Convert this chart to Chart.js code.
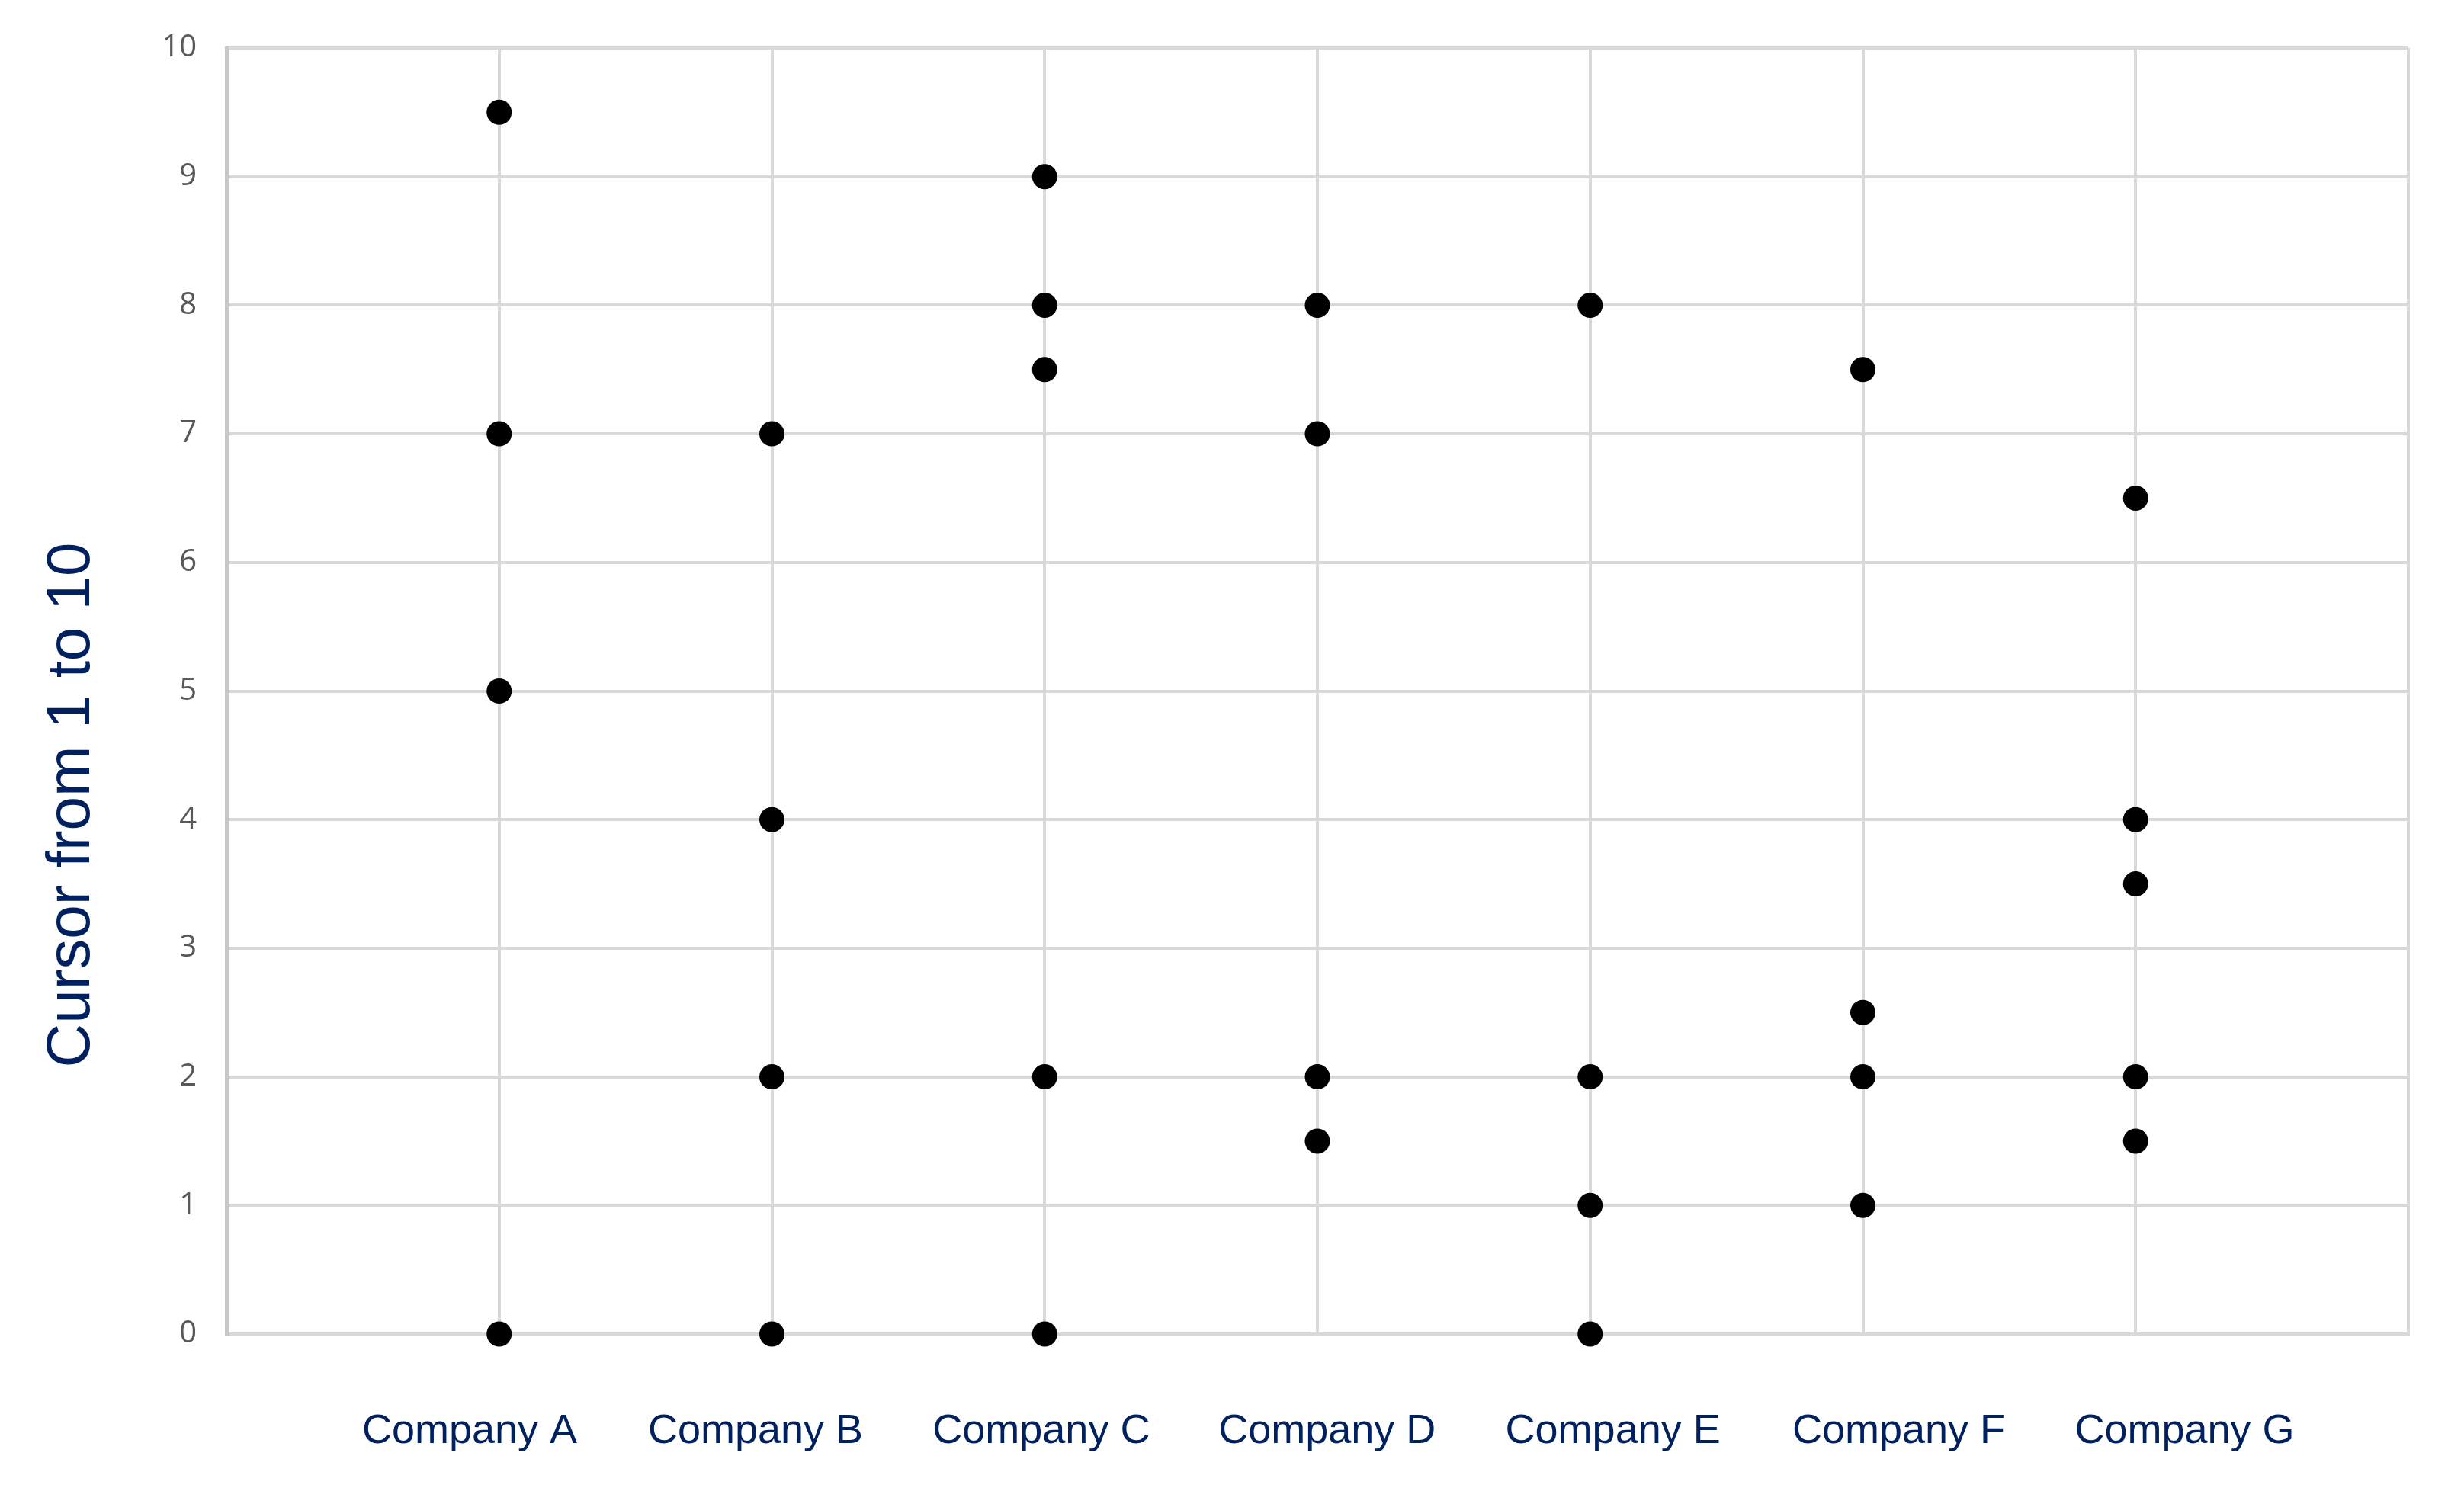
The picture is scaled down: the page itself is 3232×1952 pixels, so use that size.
<!DOCTYPE html>
<html>
<head>
<meta charset="utf-8">
<title>Cursor from 1 to 10</title>
<script src="https://cdn.jsdelivr.net/npm/chart.js@4.4.1/dist/chart.umd.min.js"></script>
<style>
  html, body { margin: 0; padding: 0; background: #fff; }
  #wrap { width: 3232px; height: 1952px; }
</style>
</head>
<body>
<div id="wrap"><canvas id="cursor-chart"></canvas></div>
<script>
var companies = ['Company A', 'Company B', 'Company C', 'Company D', 'Company E', 'Company F', 'Company G'];

var companyA = [9.5, 7, 5, 0];
var companyB = [7, 4, 2, 0];
var companyC = [9, 8, 7.5, 2, 0];
var companyD = [8, 7, 2, 1.5];
var companyE = [8, 2, 1, 0];
var companyF = [7.5, 2.5, 2, 1];
var companyG = [6.5, 4, 3.5, 2, 1.5];

var yTicks = [0, 1, 2, 3, 4, 5, 6, 7, 8, 9, 10];
var yTitle = 'Cursor from 1 to 10';

window.addEventListener('DOMContentLoaded', init);

function init() {
  var scores = [companyA, companyB, companyC, companyD, companyE, companyF, companyG];
  printChart('cursor-chart', buildPoints(scores));
}

// one point per answer, x = position of the company (1..7)
function buildPoints(scores) {
  var points = [];
  scores.forEach(function (values, i) {
    values.forEach(function (v) {
      points.push({ x: i + 1, y: v });
    });
  });
  return points;
}

var yTitlePlugin = {
  id: 'yTitle',
  afterDraw: function (chart) {
    var ctx = chart.ctx;
    var area = chart.chartArea;
    ctx.save();
    ctx.translate(area.left - 180, area.bottom - 694);
    ctx.rotate(-Math.PI / 2);
    ctx.font = '80px "Liberation Sans", Arial, sans-serif';
    ctx.fillStyle = '#002060';
    ctx.textAlign = 'center';
    ctx.textBaseline = 'alphabetic';
    ctx.fillText(yTitle, 0, 0);
    ctx.restore();
  }
};

function printChart(target, points) {
  var ctx = document.getElementById(target);
  Chart.defaults.font.family = '"Liberation Sans", Arial, sans-serif';

  new Chart(ctx, {
    type: 'scatter',
    data: {
      datasets: [{
        label: yTitle,
        data: points,
        pointRadius: 16.5,
        pointBorderWidth: 0,
        pointBackgroundColor: '#000000',
        pointBorderColor: '#000000',
        clip: false
      }]
    },
    options: {
      responsive: true,
      maintainAspectRatio: false,
      animation: false,
      events: [],
      layout: {
        padding: { left: 150, top: 59, right: 73, bottom: 45 }
      },
      plugins: {
        legend: { display: false },
        tooltip: { enabled: false }
      },
      scales: {
        x: {
          type: 'linear',
          position: 'bottom',
          min: 0,
          max: companies.length + 1,
          afterFit: function (scale) { scale.height = 0; },
          ticks: { display: false, stepSize: 1 },
          grid: { color: '#d9d9d9', lineWidth: 4, drawTicks: false },
          border: { color: '#d9d9d9', width: 4 }
        },
        labels: {
          type: 'linear',
          position: 'bottom',
          axis: 'x',
          min: 0.149,
          max: 7.783,
          afterBuildTicks: function (scale) {
            scale.ticks = companies.map(function (c, i) { return { value: i + 1 }; });
          },
          afterFit: function (scale) { scale.height = 157; },
          ticks: {
            padding: 96,
            color: '#002060',
            font: { size: 54 },
            maxRotation: 0,
            autoSkip: false,
            callback: function (value, index) { return companies[index]; }
          },
          grid: { display: false, drawTicks: false },
          border: { display: false }
        },
        y: {
          min: 0,
          max: 10,
          afterBuildTicks: function (scale) {
            scale.ticks = yTicks.map(function (v) { return { value: v }; });
          },
          afterFit: function (scale) { scale.width = 147; },
          ticks: {
            padding: 39,
            color: '#595959',
            font: { family: '"Open Sans", sans-serif', size: 40 }
          },
          grid: { color: '#d9d9d9', lineWidth: 4, drawTicks: false },
          border: { color: '#c8c8c8', width: 5 }
        }
      }
    },
    plugins: [yTitlePlugin]
  });
}
</script>
</body>
</html>
